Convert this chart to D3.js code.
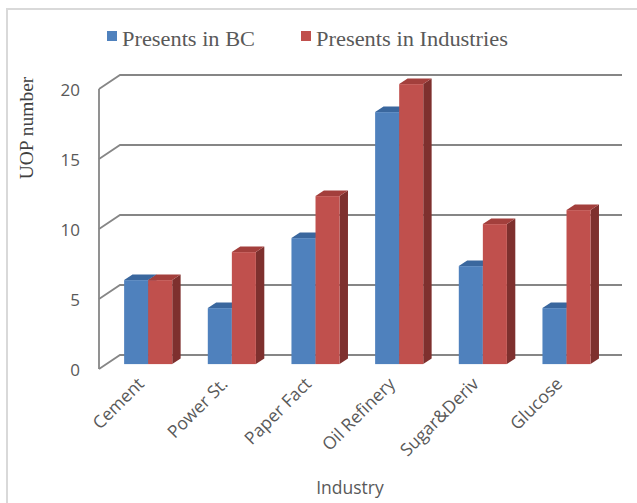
<!DOCTYPE html>
<html>
<head>
<meta charset="utf-8">
<script src="https://cdn.jsdelivr.net/npm/d3@7"></script>
<style>
  body { margin: 0; background: #fff; }
  svg { display: block; }
</style>
</head>
<body>
<div id="chart"></div>
<script>
// chart data
var categories = ["Cement", "Power St.", "Paper Fact", "Oil Refinery", "Sugar&Deriv", "Glucose"];
var seriesNames = ["Presents in BC", "Presents in Industries"];
var bcValues = [6, 4, 9, 18, 7, 4];
var industryValues = [6, 8, 12, 20, 10, 11];
var yTicks = [0, 5, 10, 15, 20];

var width = 637, height = 503;
var colors = ["#4F81BD", "#C0504D"];
var topColors = ["#3A679E", "#A33F3C"];
var sideColors = ["#2F5585", "#7E302E"];

// 3d layout: front axis origin and depth vector of the floor
var ox = 99, oy = 369;
var depth = {x: 21, y: -14};
var barFront = 0.35, barBack = 0.75;

var svg = d3.select("#chart").append("svg")
  .attr("width", width)
  .attr("height", height);

// frame lines of the picture
svg.append("line").attr("x1", 6).attr("y1", 9).attr("x2", width).attr("y2", 9)
  .attr("stroke", "#d9d9d9").attr("stroke-width", 2);
svg.append("line").attr("x1", 7).attr("y1", 9).attr("x2", 7).attr("y2", height)
  .attr("stroke", "#d9d9d9").attr("stroke-width", 2);

var y = d3.scaleLinear().domain([0, 20]).range([0, 280]);

var x0 = d3.scaleBand()
  .domain(categories)
  .range([ox, ox + 502])
  .paddingInner(0.425)
  .paddingOuter(0.2125);

var x1 = d3.scaleBand()
  .domain(seriesNames)
  .range([0, x0.bandwidth()]);

// gridlines on the back wall with the depth diagonal
var grid = svg.append("g").attr("stroke", "#868686").attr("stroke-width", 1.8).attr("fill", "none");
yTicks.forEach(function (t) {
  var fy = oy - y(t);
  grid.append("path")
    .attr("d", "M" + ox + "," + fy + "L" + (ox + depth.x) + "," + (fy + depth.y) + "L622," + (fy + depth.y));
});
grid.append("line")
  .attr("x1", ox).attr("y1", oy)
  .attr("x2", ox).attr("y2", oy - y(20));

// y tick labels
svg.append("g").selectAll("text")
  .data(yTicks)
  .enter().append("text")
  .attr("x", 80)
  .attr("y", function (d) { return oy - y(d) + 2; })
  .attr("text-anchor", "end")
  .attr("dominant-baseline", "middle")
  .attr("font-family", "Open Sans, sans-serif")
  .attr("font-size", 17)
  .attr("fill", "#595959")
  .text(function (d) { return d; });

// bars
var data = categories.map(function (c, i) {
  return {cat: c, values: [bcValues[i], industryValues[i]]};
});

var fx = depth.x * barFront, fy0 = depth.y * barFront;
var dx = depth.x * (barBack - barFront), dy = depth.y * (barBack - barFront);

var bars = svg.append("g");
data.forEach(function (d) {
  d.values.forEach(function (v, s) {
    var left = x0(d.cat) + x1(seriesNames[s]) + fx;
    var w = x1.bandwidth();
    var base = oy + fy0;
    var top = base - y(v);
    var g = bars.append("g");
    // side face
    g.append("path")
      .attr("d", "M" + (left + w) + "," + base + "L" + (left + w + dx) + "," + (base + dy) +
        "L" + (left + w + dx) + "," + (top + dy) + "L" + (left + w) + "," + top + "Z")
      .attr("fill", sideColors[s]);
    // top face
    g.append("path")
      .attr("d", "M" + left + "," + top + "L" + (left + dx) + "," + (top + dy) +
        "L" + (left + w + dx) + "," + (top + dy) + "L" + (left + w) + "," + top + "Z")
      .attr("fill", topColors[s]);
    // front face
    g.append("rect")
      .attr("x", left)
      .attr("y", top)
      .attr("width", w)
      .attr("height", y(v))
      .attr("fill", colors[s]);
  });
});

// category labels
svg.append("g").selectAll("text")
  .data(categories)
  .enter().append("text")
  .attr("transform", function (d) {
    var cx = x0(d) + x0.bandwidth() / 2 + fx - 3;
    return "translate(" + cx + ",385) rotate(-45)";
  })
  .attr("text-anchor", "end")
  .attr("font-family", "Open Sans, sans-serif")
  .attr("font-size", 17.5)
  .attr("fill", "#595959")
  .text(function (d) { return d; });

// axis titles
svg.append("text")
  .attr("x", 350)
  .attr("y", 494)
  .attr("text-anchor", "middle")
  .attr("font-family", "Open Sans, sans-serif")
  .attr("font-size", 17.5)
  .attr("fill", "#595959")
  .text("Industry");

svg.append("text")
  .attr("transform", "translate(33,128) rotate(-90)")
  .attr("text-anchor", "middle")
  .attr("font-family", "Liberation Serif, Times New Roman, serif")
  .attr("font-size", 19.5)
  .attr("fill", "#404040")
  .text("UOP number");

// legend
var legendX = [107, 301];
var legendW = [133, 192];
var legend = svg.append("g");
seriesNames.forEach(function (name, i) {
  legend.append("rect")
    .attr("x", legendX[i]).attr("y", 31)
    .attr("width", 10).attr("height", 10)
    .attr("fill", colors[i]);
  legend.append("text")
    .attr("x", legendX[i] + 15)
    .attr("y", 46)
    .attr("font-family", "Liberation Serif, Times New Roman, serif")
    .attr("font-size", 20)
    .attr("fill", "#595959")
    .attr("textLength", legendW[i])
    .attr("lengthAdjust", "spacingAndGlyphs")
    .text(name);
});
</script>
</body>
</html>
